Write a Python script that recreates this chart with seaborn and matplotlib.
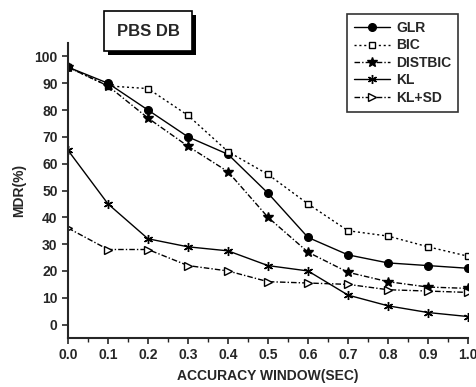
import matplotlib
matplotlib.use("Agg")
import matplotlib.pyplot as plt
import matplotlib.patheffects as pe
import seaborn as sns
import pandas as pd
import numpy as np

# accuracy window (sec)
window = [0.0, 0.1, 0.2, 0.3, 0.4, 0.5, 0.6, 0.7, 0.8, 0.9, 1.0]

glr = [96, 90, 80, 70, 63.5, 49, 32.5, 26, 23, 22, 21]
bic = [96, 89, 88, 78, 64.5, 56, 45, 35, 33, 29, 25.5]
distbic = [96, 89, 77, 66.5, 57, 40, 27, 19.5, 16, 14, 13.5]
kl = [65, 45, 32, 29, 27.5, 22, 20, 11, 7, 4.5, 3]
klsd = [36, 28, 28, 22, 20, 16, 15.5, 15, 13, 12.5, 12]

names = ["GLR", "BIC", "DISTBIC", "KL", "KL+SD"]
xticks = [0.0, 0.1, 0.2, 0.3, 0.4, 0.5, 0.6, 0.7, 0.8, 0.9, 1.0]
yticks = [0, 10, 20, 30, 40, 50, 60, 70, 80, 90, 100]

sns.set_style("ticks")
plt.rcParams['font.family'] = ['Liberation Sans', 'DejaVu Sans']

fig = plt.figure(figsize=(4.77, 3.87), dpi=100)
ax = fig.add_axes([68 / 477, 49 / 387, 400 / 477, 295 / 387])

styles = {
    "GLR": dict(linestyle='-', marker='o', markersize=5.5, mfc='black'),
    "BIC": dict(linestyle=(0, (1.5, 2)), marker='s', markersize=4.5, mfc='white'),
    "DISTBIC": dict(linestyle=(0, (4, 1.5, 1, 1.5)), marker='*', markersize=7, mfc='black'),
    "KL": dict(linestyle='-', marker=(6, 2, 0), markersize=6.5, mfc='black'),
    "KL+SD": dict(linestyle=(0, (4, 1.5, 1, 1.5)), marker='>', markersize=5.5, mfc='white'),
}

for name, vals in zip(names, [glr, bic, distbic, kl, klsd]):
    df = pd.DataFrame({'x': window, 'y': vals})
    st = styles[name]
    sns.lineplot(data=df, x='x', y='y', ax=ax, color='black', linewidth=1.0,
                 linestyle=st['linestyle'], marker=st['marker'],
                 markersize=st['markersize'], markerfacecolor=st['mfc'],
                 markeredgecolor='black', markeredgewidth=1.0, label=name)

ax.set_xlim(0, 1.0)
ax.set_ylim(-5, 105)
ax.set_xticks(xticks)
ax.set_xticklabels([f"{t:.1f}" for t in xticks])
ax.set_xticks(np.arange(0.05, 1.0, 0.1), minor=True)
ax.set_yticks(yticks)
ax.tick_params(axis='both', labelsize=10, width=1.2, length=4)
ax.tick_params(axis='x', which='minor', length=3, width=1.0)
for lab in ax.get_xticklabels() + ax.get_yticklabels():
    lab.set_fontweight('bold')

ax.set_xlabel('ACCURACY WINDOW(SEC)', fontsize=10, fontweight='bold', labelpad=5)
ax.set_ylabel('MDR(%)', fontsize=10, fontweight='bold', labelpad=6)
sns.despine(ax=ax)
ax.spines['left'].set_linewidth(1.5)
ax.spines['bottom'].set_linewidth(1.5)

leg = ax.legend(loc='upper right', bbox_to_anchor=(465 / 477, 1 - 7 / 387),
                bbox_transform=fig.transFigure, frameon=True, fancybox=False,
                fontsize=10, handlelength=2.6, borderpad=0.5, labelspacing=0.25,
                handletextpad=0.4)
leg.get_frame().set_edgecolor('black')
leg.get_frame().set_linewidth(1.2)
for t in leg.get_texts():
    t.set_fontweight('bold')

title = fig.text(148 / 477, 1 - 31 / 387, 'PBS DB', ha='center', va='center',
                 fontsize=12, fontweight='bold',
                 bbox=dict(boxstyle='square,pad=0.75', facecolor='white',
                           edgecolor='black', linewidth=1.2))
title.get_bbox_patch().set_path_effects([
    pe.SimplePatchShadow(offset=(3, -3), shadow_rgbFace='black', alpha=1.0),
    pe.Normal()])

fig.savefig('out.png', dpi=100)
